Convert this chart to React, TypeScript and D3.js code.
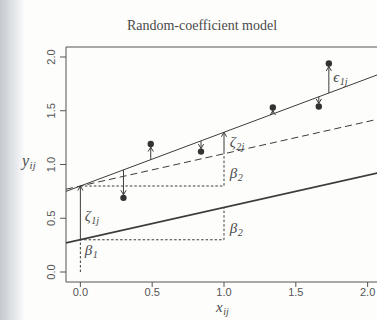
import * as d3 from "d3"

// valores
const xTicks = [0, 0.5, 1, 1.5, 2]
const yTicks = [0, 0.5, 1, 1.5, 2]
const beta1 = 0.3
const beta2 = 0.3
const zeta1 = 0.5
const zeta2 = 0.2
const puntosX = [0.3, 0.49, 0.84, 1.34, 1.66, 1.73]
const puntosY = [0.69, 1.19, 1.12, 1.53, 1.54, 1.94]

const W = 377
const H = 320
const ink = "#3c3c3c"
const serif = "'Liberation Serif', 'DejaVu Serif', serif"
const sans = "'Liberation Sans', Arial, sans-serif"

export default function App() {
  const x = d3.scaleLinear().domain([-0.1, 2.1]).range([66, 382])
  const y = d3.scaleLinear().domain([-0.093, 2.093]).range([282, 47])
  const [x0, x1] = x.domain()

  const recta = (a: number, b: number) =>
    d3
      .line<number>()
      .x((d) => x(d))
      .y((d) => y(a + b * d))([x0, x1]) || ""

  const media = recta(beta1, beta2)
  const paralela = recta(beta1 + zeta1, beta2)
  const grupo = recta(beta1 + zeta1, beta2 + zeta2)
  const lineaGrupo = (v: number) => beta1 + zeta1 + (beta2 + zeta2) * v

  // etiqueta matemática con subíndice
  const mathLabel = (xp: number, yp: number, main: string, sub: string, size = 15) => (
    <text x={xp} y={yp} fontFamily={serif} fontStyle="italic" fontSize={size} fill="#4a4a4a">
      {main}
      <tspan fontSize={size * 0.68} dx={0.5} dy={3}>
        {sub}
      </tspan>
    </text>
  )

  return (
    <svg width={W} height={H} style={{ position: "absolute", left: 0, top: 0 }}>
      <defs>
        <linearGradient id="borde" x1="0" x2="1" y1="0" y2="0">
          <stop offset="0" stopColor="#c4c9cf" />
          <stop offset="0.45" stopColor="#dde0e4" />
          <stop offset="1" stopColor="#ffffff" />
        </linearGradient>
        <clipPath id="area">
          <rect x={66} y={47} width={382 - 66} height={282 - 47} />
        </clipPath>
        <marker id="flecha" markerUnits="userSpaceOnUse" markerWidth={12} markerHeight={12} refX={0} refY={0} viewBox="-6 -6 12 12" orient="auto">
          <path d="M-4.5,-2.6 L0,0 L-4.5,2.6" fill="none" stroke={ink} strokeWidth={1} />
        </marker>
      </defs>
      <rect width={W} height={H} fill="#fdfdfc" />
      <rect width={26} height={H} fill="url(#borde)" />

      <text x={202} y={30} textAnchor="middle" fontFamily={serif} fontSize={14} fill="#4a4a4a">
        Random-coefficient model
      </text>

      {/* marco */}
      <path d={`M382,47 H66 V282 H382`} fill="none" stroke="#555" strokeWidth={1} />

      {/* ejes */}
      {yTicks.map((t) => (
        <g key={"y" + t}>
          <line x1={66} x2={60} y1={y(t)} y2={y(t)} stroke="#555" />
          <text
            transform={`translate(55,${y(t)}) rotate(-90)`}
            textAnchor="middle"
            fontFamily={sans}
            fontSize={11}
            fill="#555"
          >
            {t.toFixed(1)}
          </text>
        </g>
      ))}
      {xTicks.map((t) => (
        <g key={"x" + t}>
          <line x1={x(t)} x2={x(t)} y1={282} y2={287} stroke="#555" />
          <text x={x(t)} y={296} textAnchor="middle" fontFamily={sans} fontSize={11} fill="#555">
            {t.toFixed(1)}
          </text>
        </g>
      ))}
      {mathLabel(22, 166, "y", "ij", 16)}
      {mathLabel(216, 312, "x", "ij", 15)}

      <g clipPath="url(#area)">
        <path d={media} stroke={ink} strokeWidth={1.8} fill="none" />
        <path d={paralela} stroke={ink} strokeWidth={1} strokeDasharray="7,4" fill="none" />
        <path d={grupo} stroke={ink} strokeWidth={1} fill="none" />

        {/* triángulos punteados */}
        <path
          d={`M${x(0)},${y(0)} V${y(beta1)} H${x(1)} V${y(beta1 + beta2)}`}
          stroke={ink}
          strokeWidth={1}
          strokeDasharray="2.5,2"
          fill="none"
        />
        <path
          d={`M${x(0)},${y(beta1 + zeta1)} H${x(1)} V${y(beta1 + zeta1 + beta2)}`}
          stroke={ink}
          strokeWidth={1}
          strokeDasharray="2.5,2"
          fill="none"
        />

        {/* flechas zeta */}
        <line x1={x(0)} x2={x(0)} y1={y(beta1)} y2={y(beta1 + zeta1)} stroke={ink} markerEnd="url(#flecha)" />
        <line
          x1={x(1)}
          x2={x(1)}
          y1={y(beta1 + zeta1 + beta2)}
          y2={y(lineaGrupo(1))}
          stroke={ink}
          markerEnd="url(#flecha)"
        />

        {/* residuos */}
        {puntosX.map((px, i) => {
          const base = lineaGrupo(px)
          const dir = puntosY[i] > base ? -1 : 1
          return (
            <g key={i}>
              <line
                x1={x(px)}
                x2={x(px)}
                y1={y(base)}
                y2={y(puntosY[i]) - dir * 3}
                stroke={ink}
                markerEnd="url(#flecha)"
              />
              <circle cx={x(px)} cy={y(puntosY[i])} r={3.2} fill="#333" />
            </g>
          )
        })}
      </g>

      {mathLabel(x(0.03), y(0.47), "ζ", "1j")}
      {mathLabel(x(0.03), y(0.16), "β", "1")}
      {mathLabel(x(1.04), y(0.36), "β", "2")}
      {mathLabel(x(1.04), y(0.87), "β", "2")}
      {mathLabel(x(1.04), y(1.16), "ζ", "2j")}
      {mathLabel(x(1.76), y(1.77), "ϵ", "1j")}
    </svg>
  )
}
